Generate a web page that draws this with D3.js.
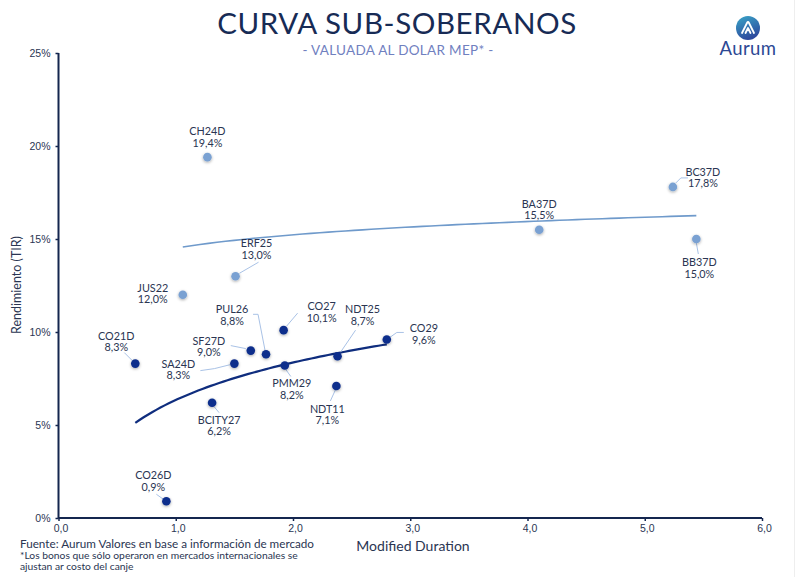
<!DOCTYPE html>
<html>
<head>
<meta charset="utf-8">
<script src="https://cdn.jsdelivr.net/npm/d3@7"></script>
<style>
  body { margin: 0; background: #fff; }
  svg { font-family: Lato, "Noto Sans", sans-serif; }
</style>
</head>
<body>
<div id="chart"></div>
<script>
// bonos (nombre, duration modificada, TIR %)
const darkNames = ["CO21D", "CO26D", "BCITY27", "SA24D", "SF27D", "PUL26", "CO27", "PMM29", "NDT11", "NDT25", "CO29"]
const darkDur   = [0.655, 0.92, 1.31, 1.50, 1.64, 1.77, 1.92, 1.93, 2.37, 2.38, 2.80]
const darkTir   = [8.3, 0.9, 6.2, 8.3, 9.0, 8.8, 10.1, 8.2, 7.1, 8.7, 9.6]

const lightNames = ["JUS22", "CH24D", "ERF25", "BA37D", "BC37D", "BB37D"]
const lightDur   = [1.06, 1.27, 1.51, 4.10, 5.24, 5.44]
const lightTir   = [12.0, 19.4, 13.0, 15.5, 17.8, 15.0]

const xTicks = [0, 1, 2, 3, 4, 5, 6]
const yTicks = [0, 5, 10, 15, 20, 25]

// ubicacion de etiquetas (offset desde el punto) y lineas guia
const labelPos = {
    CH24D:   { dx: 0,   dy: -26 },
    BC37D:   { dx: 30,  dy: -15, lead: [[3, -4], [8, -9], [15, -9]] },
    BA37D:   { dx: 0,   dy: -26 },
    BB37D:   { dx: 3,   dy: 23,  lead: [[0, 4], [2, 15]] },
    ERF25:   { dx: 21,  dy: -33, lead: [[4, -3], [23, -14]] },
    JUS22:   { dx: -30, dy: -7 },
    PUL26:   { dx: -34, dy: -45, lead: [[-1, -4], [-8, -40], [-13, -40]] },
    CO27:    { dx: 38,  dy: -24, lead: [[3, -4], [14, -17]] },
    NDT25:   { dx: 25,  dy: -47, lead: [[3, -4], [18, -26]] },
    CO29:    { dx: 37,  dy: -11, lead: [[3, -2], [10, -7], [17, -7]] },
    CO21D:   { dx: -19, dy: -28, lead: [[-3, -3], [-11, -11]] },
    SF27D:   { dx: -42, dy: -10, lead: [[-5, -2], [-20, -5]] },
    SA24D:   { dx: -56, dy: 0,   lead: [[-4, 1], [-20, 5], [-34, 7]] },
    PMM29:   { dx: 7,   dy: 18,  lead: [[1, 4], [6, 11]] },
    NDT11:   { dx: -9,  dy: 23,  lead: [[-1, 4], [-6, 15]] },
    BCITY27: { dx: 7,   dy: 17,  lead: [[2, 4], [7, 10]] },
    CO26D:   { dx: -13, dy: -26, lead: [[-3, -2], [-10, -7]] }
}

const width = 796, height = 577
const navy = "#14264f"
const darkColor = "#0e2e8c"
const lightColor = "#7aa1d2"

const svg = d3.select("#chart").append("svg")
    .attr("width", width)
    .attr("height", height)

const defs = svg.append("defs")
const shadow = defs.append("filter").attr("id", "shadow")
    .attr("x", "-100%").attr("y", "-100%").attr("width", "300%").attr("height", "300%")
shadow.append("feDropShadow")
    .attr("dx", 0).attr("dy", 1).attr("stdDeviation", 1.6)
    .attr("flood-color", "#000").attr("flood-opacity", 0.35)

const grad = defs.append("linearGradient").attr("id", "logoGrad")
    .attr("x1", 0).attr("y1", 0).attr("x2", 0.4).attr("y2", 1)
grad.append("stop").attr("offset", "0%").attr("stop-color", "#3aa6c8")
grad.append("stop").attr("offset", "100%").attr("stop-color", "#2d4b9e")

const x = d3.scaleLinear().domain([0, 6]).range([58.5, 762])
const y = d3.scaleLinear().domain([0, 25]).range([518, 53])

// titulo
svg.append("text")
    .attr("x", 397).attr("y", 34)
    .attr("text-anchor", "middle")
    .attr("font-size", 29.5)
    .attr("letter-spacing", 0.6)
    .attr("fill", "#172b55")
    .text("CURVA SUB-SOBERANOS")

svg.append("text")
    .attr("x", 398).attr("y", 55)
    .attr("text-anchor", "middle")
    .attr("font-size", 13.5)
    .attr("letter-spacing", 0.3)
    .attr("fill", "#7080bf")
    .text("- VALUADA AL DOLAR MEP* -")

// logo
const logo = svg.append("g").attr("transform", "translate(748,28)")
logo.append("circle").attr("r", 12).attr("fill", "url(#logoGrad)")
logo.append("path")
    .attr("d", "M -6 5 L -1 -5 Q 0 -7 1 -5 L 6 5 M -2.5 5 L 0 0 L 2.5 5")
    .attr("fill", "none")
    .attr("stroke", "#fff")
    .attr("stroke-width", 1.8)
    .attr("stroke-linejoin", "round")
    .attr("stroke-linecap", "round")
svg.append("text")
    .attr("x", 748).attr("y", 55)
    .attr("text-anchor", "middle")
    .attr("font-size", 18.5)
    .attr("letter-spacing", 0.4)
    .attr("fill", "#2c4894")
    .text("Aurum")

// ejes
const xAxis = svg.append("g")
    .attr("transform", `translate(0,${y(0)})`)
    .call(d3.axisBottom(x).tickValues(xTicks).tickSize(3).tickFormat(d => d3.format(".1f")(d).replace(".", ",")))
const yAxis = svg.append("g")
    .attr("transform", `translate(${x(0)},0)`)
    .call(d3.axisLeft(y).tickValues(yTicks).tickSize(3).tickFormat(d => d + "%"))

xAxis.select(".domain").attr("stroke", navy).attr("stroke-width", 2).attr("d", `M${x(0)},0H${x(6)}`)
yAxis.select(".domain").attr("stroke", navy).attr("stroke-width", 2).attr("d", `M0,${y(25)}V${y(0)}`)
svg.selectAll(".tick line").attr("stroke", navy).attr("stroke-width", 1.5)
xAxis.selectAll(".tick text").attr("font-size", 10.5).attr("fill", "#2a3552").attr("y", 5).attr("dy", "0.9em").attr("dx", 2)
yAxis.selectAll(".tick text").attr("font-size", 10.5).attr("fill", "#2a3552").attr("x", -8)

svg.append("text")
    .attr("x", 413).attr("y", 551)
    .attr("text-anchor", "middle")
    .attr("font-size", 14)
    .attr("fill", "#2a3552")
    .text("Modified Duration")

svg.append("text")
    .attr("transform", "translate(21,285) rotate(-90)")
    .attr("text-anchor", "middle")
    .attr("font-size", 12.5)
    .attr("fill", "#2a3552")
    .text("Rendimiento (TIR)")

// linea de tendencia logaritmica (minimos cuadrados, como excel)
function logFit(xs, ys) {
    const lx = xs.map(Math.log)
    const mx = d3.mean(lx), my = d3.mean(ys)
    let sxy = 0, sxx = 0
    lx.forEach((v, i) => { sxy += (v - mx) * (ys[i] - my); sxx += (v - mx) * (v - mx) })
    const b = sxy / sxx
    return { a: my - b * mx, b: b }
}

function drawTrend(xs, ys, color, w) {
    const fit = logFit(xs, ys)
    const [lo, hi] = d3.extent(xs)
    const pts = d3.range(0, 61).map(i => {
        const d = lo + (hi - lo) * i / 60
        return [d, fit.a + fit.b * Math.log(d)]
    })
    svg.append("path")
        .datum(pts)
        .attr("fill", "none")
        .attr("stroke", color)
        .attr("stroke-width", w)
        .attr("d", d3.line().x(p => x(p[0])).y(p => y(p[1])))
}

drawTrend(lightDur, lightTir, "#6f9acb", 1.6)
drawTrend(darkDur, darkTir, "#0f2d7e", 2.2)

// puntos y etiquetas
function drawSeries(names, durs, tirs, color) {
    const data = names.map((n, i) => ({ name: n, d: durs[i], v: tirs[i] }))

    const g = svg.append("g")

    data.forEach(p => {
        const lp = labelPos[p.name]
        if (!lp || !lp.lead) return
        g.append("polyline")
            .attr("points", lp.lead.map(q => [x(p.d) + q[0], y(p.v) + q[1]]).join(" "))
            .attr("fill", "none")
            .attr("stroke", "#a9c2e6")
            .attr("stroke-width", 1)
    })

    g.selectAll("circle")
        .data(data)
        .join("circle")
        .attr("cx", p => x(p.d))
        .attr("cy", p => y(p.v))
        .attr("r", 4.3)
        .attr("fill", color)
        .attr("filter", "url(#shadow)")

    data.forEach(p => {
        const lp = labelPos[p.name] || { dx: 0, dy: -20 }
        const t = g.append("text")
            .attr("text-anchor", "middle")
            .attr("font-size", 10.8)
            .attr("fill", "#2a3552")
        t.append("tspan")
            .attr("x", x(p.d) + lp.dx)
            .attr("y", y(p.v) + lp.dy + 4)
            .text(p.name)
        t.append("tspan")
            .attr("x", x(p.d) + lp.dx)
            .attr("y", y(p.v) + lp.dy + 15.5)
            .text(d3.format(".1f")(p.v).replace(".", ",") + "%")
    })
}

drawSeries(lightNames, lightDur, lightTir, lightColor)
drawSeries(darkNames, darkDur, darkTir, darkColor)

// notas al pie
svg.append("text")
    .attr("x", 20).attr("y", 547.5)
    .attr("font-size", 11.7)
    .attr("fill", "#2a3552")
    .text("Fuente: Aurum Valores en base a información de mercado")
svg.append("text")
    .attr("x", 20).attr("y", 558.5)
    .attr("font-size", 10.3)
    .attr("fill", "#2a3552")
    .text("*Los bonos que sólo operaron en mercados internacionales se")
svg.append("text")
    .attr("x", 20).attr("y", 569.5)
    .attr("font-size", 10.3)
    .attr("fill", "#2a3552")
    .text("ajustan ar costo del canje")

svg.append("line")
    .attr("x1", 794.5).attr("x2", 794.5).attr("y1", 0).attr("y2", height)
    .attr("stroke", "#eeeeee")
</script>
</body>
</html>
